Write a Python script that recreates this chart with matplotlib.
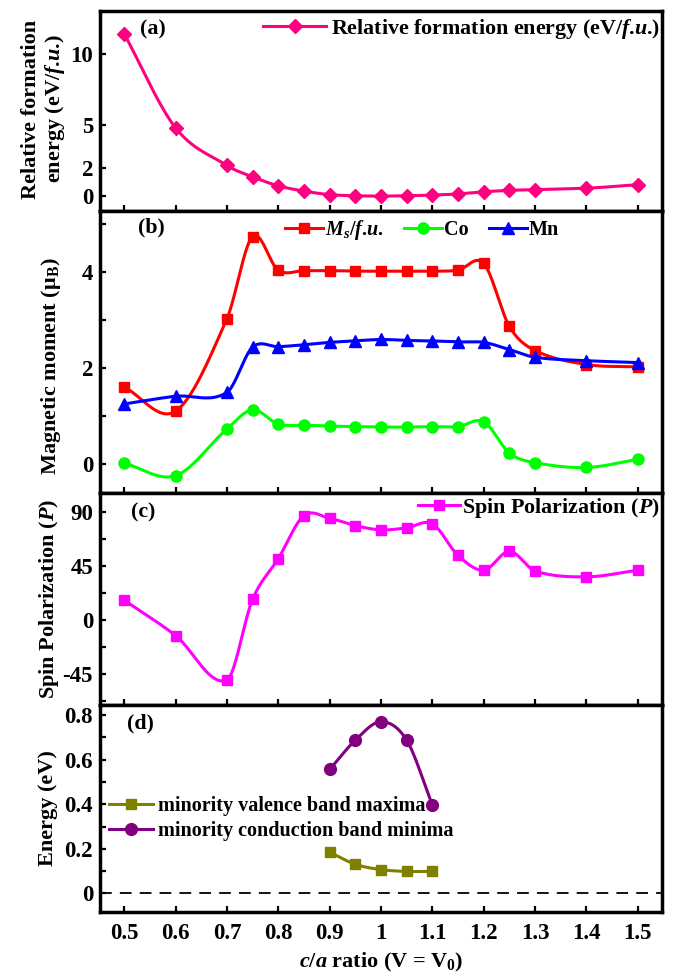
import numpy as np
import matplotlib
matplotlib.use('Agg')
import matplotlib.pyplot as plt
from matplotlib.lines import Line2D

plt.rcParams['font.family'] = ['Liberation Serif', 'DejaVu Serif']
plt.rcParams['font.weight'] = 'bold'
plt.rcParams['axes.labelweight'] = 'bold'
plt.rcParams['axes.unicode_minus'] = False
plt.rcParams['mathtext.fontset'] = 'custom'
plt.rcParams['mathtext.rm'] = 'Liberation Serif:bold'
plt.rcParams['mathtext.it'] = 'Liberation Serif:bold:italic'
plt.rcParams['mathtext.bf'] = 'Liberation Serif:bold'

# ---------------- data ----------------
ca = [0.5, 0.6, 0.7, 0.75, 0.8, 0.85, 0.9, 0.95, 1.0, 1.05, 1.1, 1.15, 1.2, 1.25, 1.3, 1.4, 1.5]
formation = [11.4, 4.8, 2.15, 1.35, 0.72, 0.35, 0.1, 0.02, 0.0, 0.02, 0.07, 0.15, 0.3, 0.4, 0.45, 0.55, 0.8]
ms = [1.6, 1.1, 3.02, 4.73, 4.03, 4.02, 4.02, 4.01, 4.01, 4.01, 4.01, 4.03, 4.17, 2.86, 2.36, 2.07, 2.02]
co = [0.02, -0.24, 0.73, 1.13, 0.83, 0.81, 0.79, 0.78, 0.77, 0.77, 0.78, 0.78, 0.88, 0.23, 0.03, -0.07, 0.10]
mn = [1.25, 1.41, 1.49, 2.43, 2.44, 2.48, 2.53, 2.56, 2.59, 2.57, 2.56, 2.54, 2.53, 2.38, 2.22, 2.15, 2.11]
spin = [16.6, -13, -50, 17.2, 51.2, 87.1, 84.9, 78.8, 75.2, 76.9, 80.2, 53.9, 41.5, 57.3, 40.9, 36.0, 41.5]
ca_gap = [0.9, 0.95, 1.0, 1.05, 1.1]
vbm = [0.185, 0.131, 0.107, 0.099, 0.099]
cbm = [0.556, 0.687, 0.77, 0.687, 0.396]

xtick_vals = [0.5, 0.6, 0.7, 0.8, 0.9, 1.0, 1.1, 1.2, 1.3, 1.4, 1.5]
xtick_labels = ['0.5', '0.6', '0.7', '0.8', '0.9', '1', '1.1', '1.2', '1.3', '1.4', '1.5']
ya_ticks = [0, 2, 5, 10]
ya_labels = ['0', '2', '5', '10']
yb_ticks = [0, 2, 4]
yb_minor = [1, 3, 5]
yc_ticks = [-45, 0, 45, 90]
yc_minor = [-67.5, -22.5, 22.5, 67.5]
yd_ticks = [0, 0.2, 0.4, 0.6, 0.8]
yd_labels = ['0', '0.2', '0.4', '0.6', '0.8']
yd_minor = [0.1, 0.3, 0.5, 0.7]

FU = '$f$.$u$.'


def smooth(x, y, n=40):
    x = np.asarray(x, float)
    y = np.asarray(y, float)
    m = np.empty_like(y)
    m[1:-1] = (y[2:] - y[:-2]) / (x[2:] - x[:-2])
    m[0] = (y[1] - y[0]) / (x[1] - x[0])
    m[-1] = (y[-1] - y[-2]) / (x[-1] - x[-2])
    xs, ys = [], []
    for i in range(len(x) - 1):
        h = x[i + 1] - x[i]
        t = np.linspace(0, 1, n)
        h00 = 2 * t**3 - 3 * t**2 + 1
        h10 = t**3 - 2 * t**2 + t
        h01 = -2 * t**3 + 3 * t**2
        h11 = t**3 - t**2
        ys.append(h00 * y[i] + h10 * h * m[i] + h01 * y[i + 1] + h11 * h * m[i + 1])
        xs.append(x[i] + t * h)
    return np.concatenate(xs), np.concatenate(ys)


W, H = 674, 976
fig = plt.figure(figsize=(W / 100, H / 100), dpi=100)

left = 100 / W
width = 562 / W


def mk_ax(top_px, bot_px):
    return fig.add_axes([left, 1 - bot_px / H, width, (bot_px - top_px) / H])


axa = mk_ax(11, 211)
axb = mk_ax(211, 493)
axc = mk_ax(493, 705)
axd = mk_ax(705, 912)

LW = 2.2
FS_TICK = 16.5
FS_LAB = 16
FS_LEG = 14.5
FS_LEG_BIG = 15.8

for ax in (axa, axb, axc, axd):
    ax.set_xlim(0.453, 1.547)
    ax.set_xticks(xtick_vals)
    ax.tick_params(which='both', direction='in', length=4, width=1.6,
                   top=False, right=False, labelsize=FS_TICK)
    ax.tick_params(axis='y', pad=5)
    ax.tick_params(axis='x', pad=8)
    for sp in ax.spines.values():
        sp.set_linewidth(2.5)
    if ax is not axd:
        ax.set_xticklabels([])
axd.set_xticklabels(xtick_labels)

# ---------------- (a) ----------------
c_a = '#FF0080'
xs, ys = smooth(ca, formation)
axa.plot(xs, ys, color=c_a, lw=LW)
axa.plot(ca, formation, ls='none', marker='D', ms=6.8, color=c_a)
axa.set_ylim(-1.05, 13.0)
axa.set_yticks(ya_ticks)
axa.set_yticklabels(ya_labels)
axa.set_ylabel('Relative formation\nenergy (eV/' + FU + ')', fontsize=FS_LAB, linespacing=1.15)
axa.yaxis.set_label_coords(-0.058, 0.51)
axa.text(0.071, 0.91, '(a)', transform=axa.transAxes, fontsize=FS_LEG_BIG, va='center', ha='left')
ha = Line2D([], [], color=c_a, lw=LW, marker='D', ms=7.5)
axa.legend([ha], ['Relative formation energy (eV/' + FU + ')'], loc='center right',
           bbox_to_anchor=(1.0, 0.91), frameon=False, fontsize=FS_LEG_BIG,
           handlelength=2.9, handletextpad=0.2, borderaxespad=0, borderpad=0.1,
           numpoints=1)

# ---------------- (b) ----------------
for vals, col, mk, msz in ((ms, '#FF0000', 's', 7), (co, '#00FF00', 'o', 8), (mn, '#0000FF', '^', 8.5)):
    xs, ys = smooth(ca, vals)
    axb.plot(xs, ys, color=col, lw=LW)
    axb.plot(ca, vals, ls='none', marker=mk, ms=msz, color=col)
axb.set_ylim(-0.6, 5.26)
axb.set_yticks(yb_ticks)
axb.set_yticks(yb_minor, minor=True)
axb.set_ylabel('Magnetic moment (μ$_\\mathrm{B}$)', fontsize=FS_LAB)
axb.yaxis.set_label_coords(-0.066, 0.45)
axb.text(0.068, 0.943, '(b)', transform=axb.transAxes, fontsize=FS_LEG_BIG, va='center', ha='left')
hb = [Line2D([], [], color='#FF0000', lw=LW, marker='s', ms=7),
      Line2D([], [], color='#00FF00', lw=LW, marker='o', ms=8),
      Line2D([], [], color='#0000FF', lw=LW, marker='^', ms=8.5)]
axb.legend(hb, ['$M_s$/' + FU, 'Co', 'Mn'], loc='center left', ncol=3,
           bbox_to_anchor=(0.325, 0.933), frameon=False, fontsize=FS_LEG,
           handlelength=1.9, handletextpad=0.1, columnspacing=1.0,
           borderaxespad=0, borderpad=0.1, numpoints=1)

# ---------------- (c) ----------------
c_c = '#FF00FF'
xs, ys = smooth(ca, spin)
axc.plot(xs, ys, color=c_c, lw=LW)
axc.plot(ca, spin, ls='none', marker='s', ms=7.5, color=c_c)
axc.set_ylim(-71, 106)
axc.set_yticks(yc_ticks)
axc.set_yticks(yc_minor, minor=True)
axc.set_ylabel('Spin Polarization ($P$)', fontsize=FS_LAB)
axc.yaxis.set_label_coords(-0.07, 0.5)
axc.text(0.055, 0.91, '(c)', transform=axc.transAxes, fontsize=FS_LEG_BIG, va='center', ha='left')
hc = Line2D([], [], color=c_c, lw=LW, marker='s', ms=7.5)
axc.legend([hc], ['Spin Polarization ($P$)'], loc='center right',
           bbox_to_anchor=(1.0, 0.929), frameon=False, fontsize=FS_LEG_BIG,
           handlelength=1.9, handletextpad=0.1, borderaxespad=0, borderpad=0.1,
           numpoints=1)

# ---------------- (d) ----------------
c_v = '#808000'
c_m = '#800080'
axd.axhline(0, color='black', lw=1.3, dashes=(6.5, 4.5))
xs, ys = smooth(ca_gap, vbm)
axd.plot(xs, ys, color=c_v, lw=LW)
axd.plot(ca_gap, vbm, ls='none', marker='s', ms=7.5, color=c_v)
xs, ys = smooth(ca_gap, cbm)
axd.plot(xs, ys, color=c_m, lw=LW)
axd.plot(ca_gap, cbm, ls='none', marker='o', ms=8.5, color=c_m)
axd.set_ylim(-0.083, 0.845)
axd.set_yticks(yd_ticks)
axd.set_yticklabels(yd_labels)
axd.set_yticks(yd_minor, minor=True)
axd.set_ylabel('Energy (eV)', fontsize=FS_LAB)
axd.yaxis.set_label_coords(-0.074, 0.5)
axd.text(0.048, 0.913, '(d)', transform=axd.transAxes, fontsize=FS_LEG_BIG, va='center', ha='left')
hd = [Line2D([], [], color=c_v, lw=LW, marker='s', ms=7.5),
      Line2D([], [], color=c_m, lw=LW, marker='o', ms=8.5)]
axd.legend(hd, ['minority valence band maxima', 'minority conduction band minima'],
           loc='center left', bbox_to_anchor=(0.012, 0.452), frameon=False,
           fontsize=FS_LEG, handlelength=2.2, handletextpad=0.25, labelspacing=0.25,
           borderaxespad=0, borderpad=0.1, numpoints=1)
axd.set_xlabel('$c/a$ ratio (V = V$_\\mathrm{0}$)', fontsize=FS_LAB, labelpad=5)

fig.savefig('out.png', dpi=100)
